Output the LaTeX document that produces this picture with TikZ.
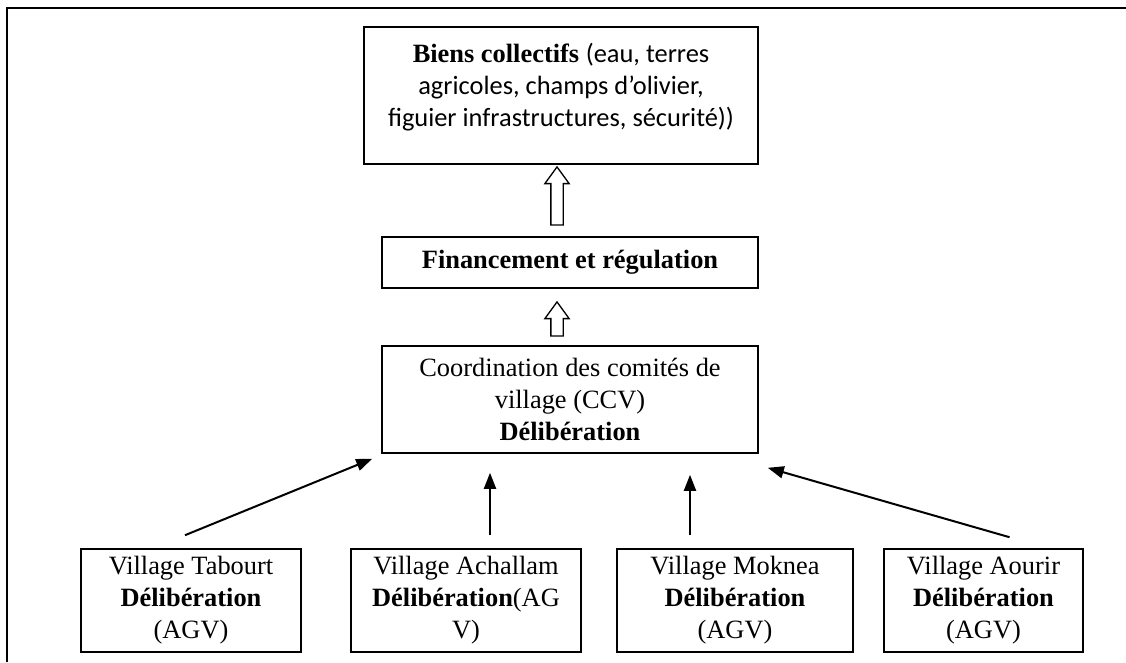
\documentclass[tikz,border=0pt]{standalone}
\usepackage{fontspec}
\setmainfont{Liberation Serif}
\newfontfamily\calibri{Carlito}
\usetikzlibrary{positioning, shapes.arrows, arrows.meta}

\begin{document}
\begin{tikzpicture}[x=1pt, y=-1pt,
    box/.style={draw, line width=1.6pt, inner sep=0pt, align=center,
      font=\fontsize{26.4}{32}\selectfont},
    village/.style={box, minimum height=103pt},
    hollow/.style={single arrow, draw, line width=1.3pt, rotate=90, inner sep=5.5pt,
      minimum width=23pt, single arrow head extend=6pt, single arrow tip angle=72,
      anchor=tip},
    link/.style={line width=2pt, -{Triangle[length=16pt, width=12pt]}}]
  \useasboundingbox (0,0) rectangle (1126,662);
  % cadre
  \draw[line width=1.6pt] (7,662) -- (7,8) -- (1126,8);

  \node[box, minimum width=394pt, minimum height=137pt] (biens) at (561,95.5)
    {\textbf{Biens collectifs} {\calibri (eau, terres}\\
     {\calibri agricoles, champs d’olivier,}\\
     {\calibri figuier infrastructures, sécurité))}\\[-11pt]\mbox{}};
  \node[box, minimum width=376pt, minimum height=51pt] (fin) at (570,262.5)
    {\textbf{Financement et régulation}};
  \node[box, minimum width=376pt, minimum height=107pt] (ccv) at (570,399.5)
    {Coordination des comités de\\ village (CCV)\\ \textbf{Délibération}};

  % villages
  \node[village, minimum width=220pt] (tabourt) at (191,600.5)
    {Village Tabourt\\ \textbf{Délibération}\\ (AGV)};
  \node[village, minimum width=230pt] (achallam) at (466,600.5)
    {Village Achallam\\ \textbf{Délibération}(AG\\ V)};
  \node[village, minimum width=236pt] (moknea) at (735,600.5)
    {Village Moknea\\ \textbf{Délibération}\\ (AGV)};
  \node[village, minimum width=199pt] (aourir) at (983.5,600.5)
    {Village Aourir\\ \textbf{Délibération}\\ (AGV)};

  % fleches creuses
  \node[hollow, minimum height=58pt] (up1) at ([xshift=-4pt,yshift=-1pt]biens.south) {};
  \node[hollow, minimum height=34pt] (up2) at ([xshift=-13pt,yshift=-12pt]fin.south) {};

  % fleches des villages
  \draw[link] ([xshift=-6pt,yshift=13pt]tabourt.north) -- ([xshift=-9pt,yshift=-5pt]ccv.south west);
  \draw[link, shorten >=19pt] ([xshift=24pt,yshift=13pt]achallam.north) -- ([xshift=24pt]achallam.north |- ccv.south);
  \draw[link, shorten >=21pt] ([xshift=-45pt,yshift=13pt]moknea.north) -- ([xshift=-45pt]moknea.north |- ccv.south);
  \draw[link] ([xshift=26pt,yshift=11pt]aourir.north) -- ([xshift=9pt,yshift=-14pt]ccv.south east);
\end{tikzpicture}
\end{document}
